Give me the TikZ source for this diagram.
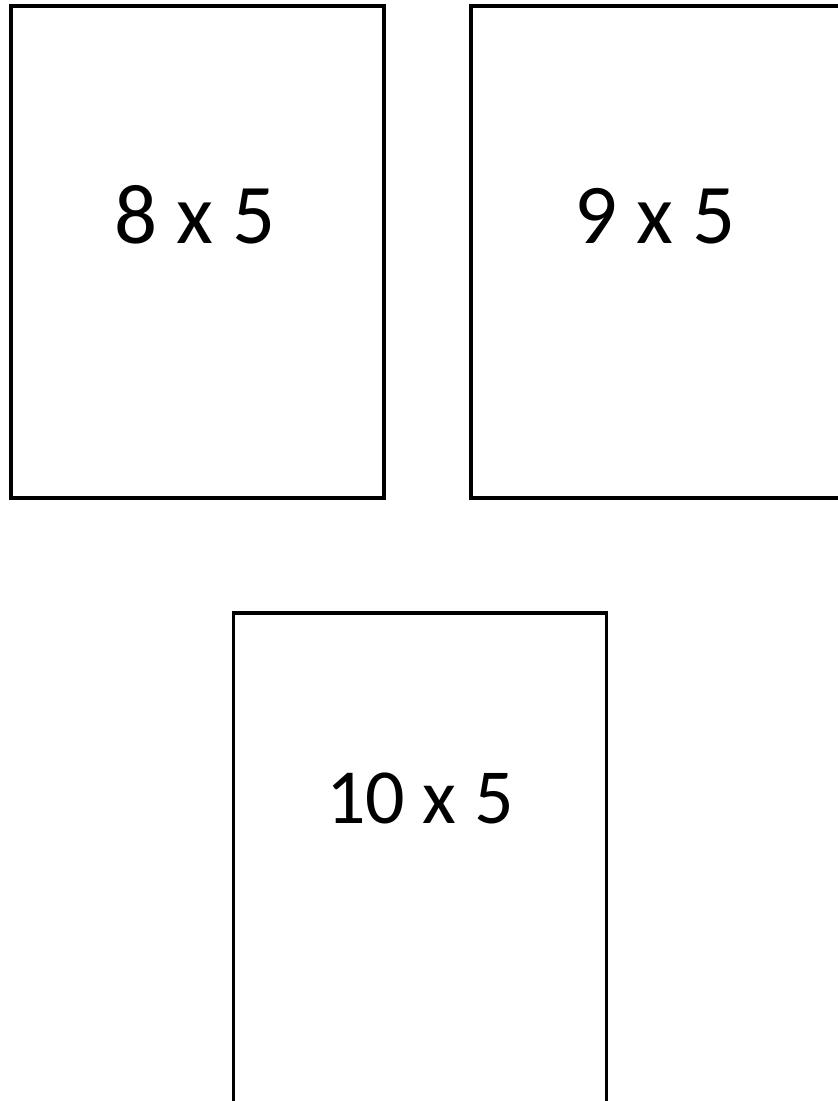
\documentclass[tikz,border=0pt]{standalone}
\usepackage{fontspec}
\setmainfont{Carlito}
\begin{document}
\begin{tikzpicture}[x=1pt,y=-1pt,
  frame/.style={draw=black,line width=3.5pt,rectangle,inner sep=0pt,minimum width=373pt,minimum height=492pt},
  lbl/.style={font=\fontsize{85}{100}\selectfont,inner sep=0pt,anchor=base}]
\useasboundingbox (0,0) rectangle (838,1101);
\clip (0,0) rectangle (838,1101);
\fill[white] (0,0) rectangle (838,1101);
\node[frame] (b1) at (197.5,252) {};
\node[frame,minimum width=375pt] (b2) at (658.5,252) {};
\node[frame] (b3) at (420,859) {};
\node[lbl] (t1) at (195,243) {8 x 5};
\node[lbl] (t2) at (655,243) {9 x 5};
\node[lbl,font=\fontsize{78}{92}\selectfont] (t3) at (420,823) {10 x 5};
\end{tikzpicture}
\end{document}
